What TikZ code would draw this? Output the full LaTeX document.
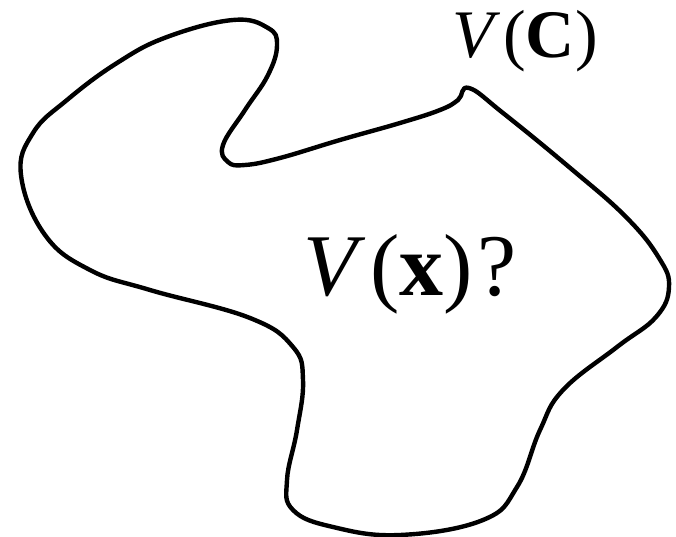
\documentclass[tikz,border=0pt]{standalone}
\usepackage{fontspec}
\setmainfont{Liberation Serif}
\usetikzlibrary{positioning}

\begin{document}
\begin{tikzpicture}[
    x=1pt, y=-1pt,
    blob/.style={line width=4.4pt, line join=round},
    lbl/.style={anchor=base west, inner sep=0pt}
]
\useasboundingbox (0,0) rectangle (676,537);

% region boundary
\draw[blob] plot[smooth cycle, tension=0.7] coordinates {
    (469,88) (503,113) (569,167) (626,217) (659,258) (669,287) (656,317)
    (617,347) (563,390) (540,430) (517,487) (483,520) (400,535) (333,527)
    (293,510) (287,480) (297,430) (303,380) (293,347) (250,318) (150,290)
    (90,270) (45,235) (21,175) (33,133) (67,100) (117,63) (167,37)
    (233,20) (268,28) (277,45) (268,75) (245,110) (223,145) (228,162)
    (245,165) (280,158) (340,140) (400,123) (440,110) (458,100)
};

% labels
\node[lbl] (VC) at (452,58) {\fontsize{68}{80}\selectfont\textit{V}\hspace{3pt}(\textbf{C})};
\node[lbl] (Vx) at (303,295) {\fontsize{88}{100}\selectfont\textit{V}\hspace{5pt}(\textbf{x})\hspace{5pt}?};

\end{tikzpicture}
\end{document}
